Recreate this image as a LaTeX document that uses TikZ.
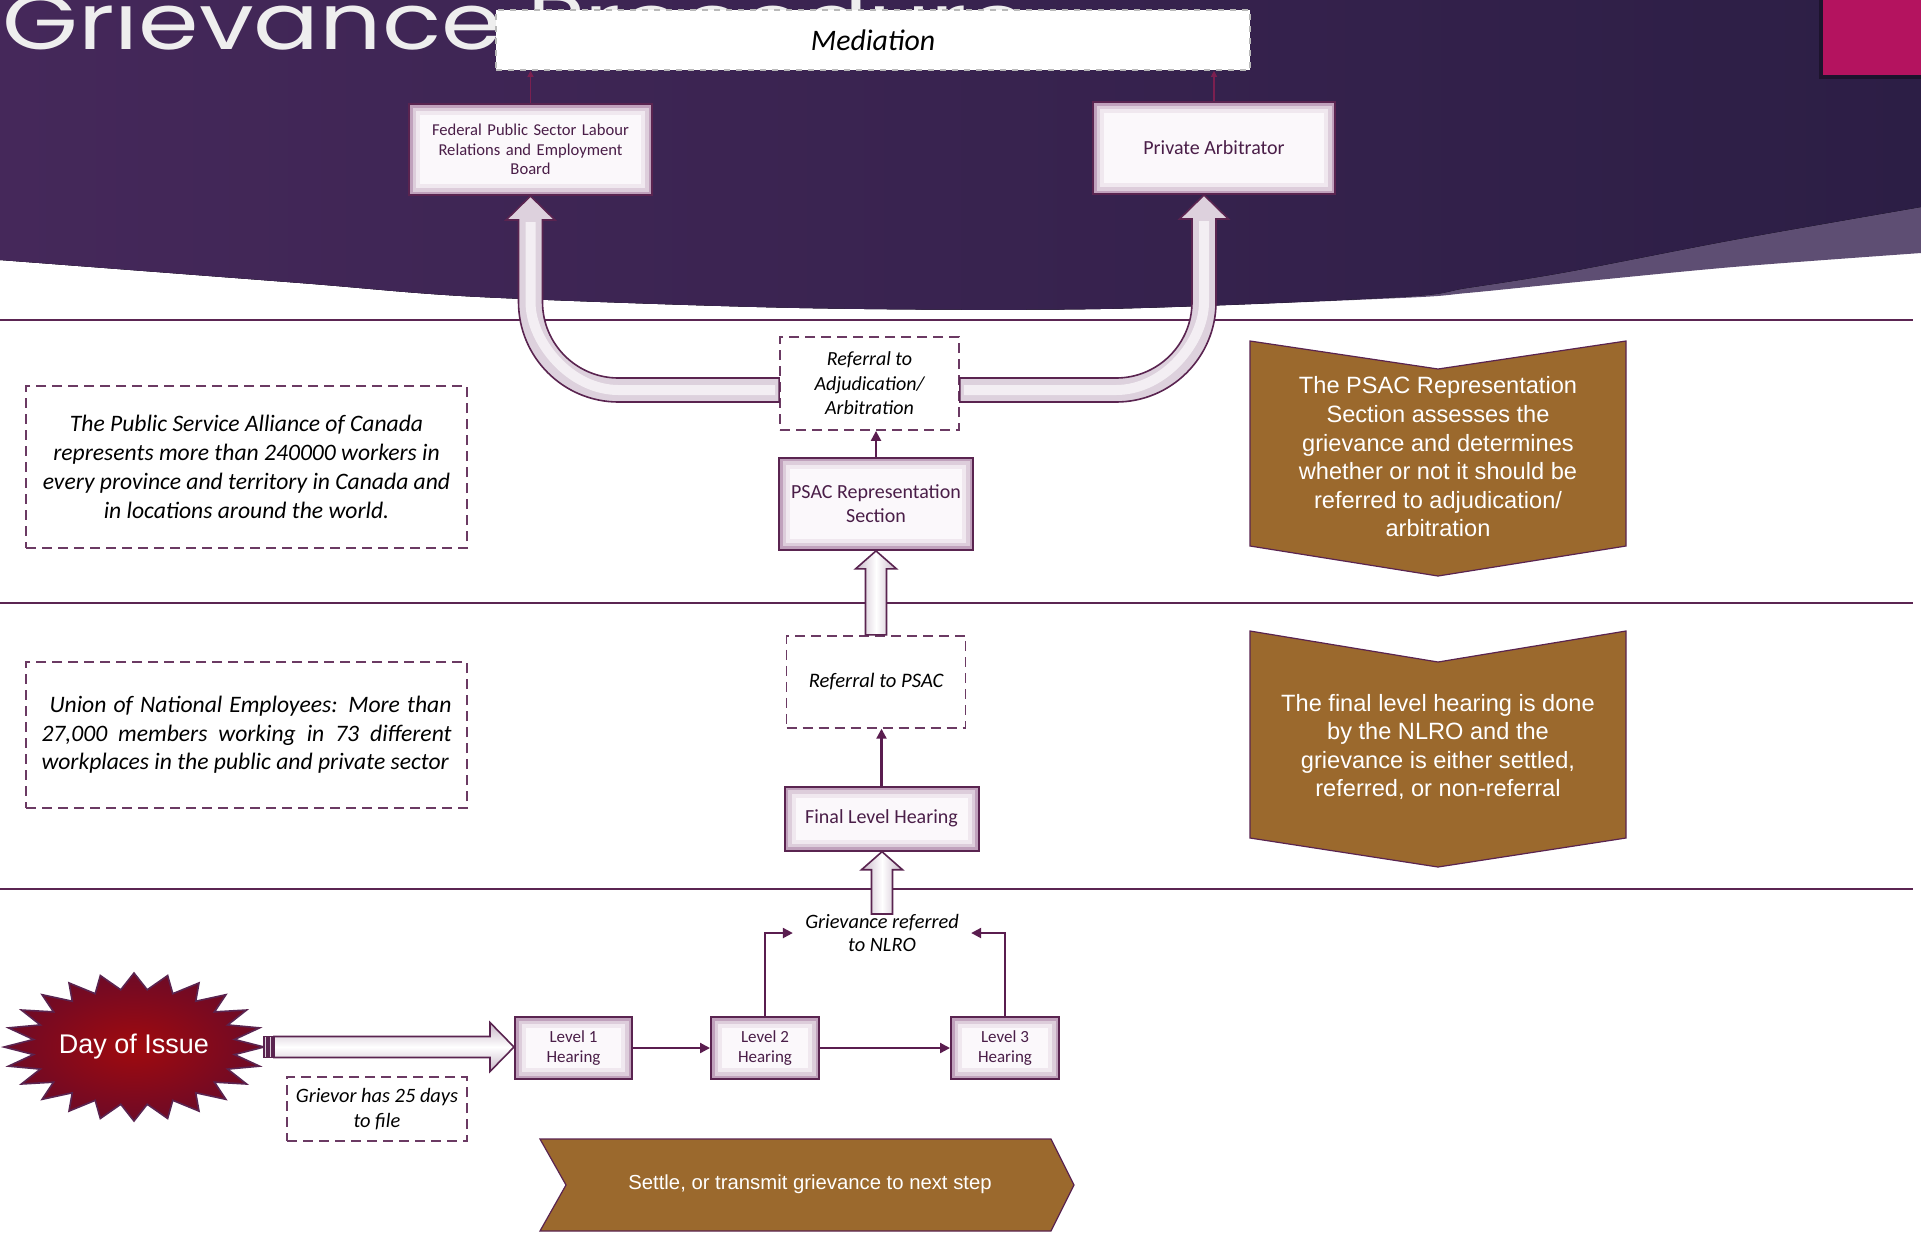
\documentclass[tikz,border=0pt]{standalone}
\usepackage{fontspec}
\setmainfont{Carlito}
\newfontfamily\arialfont{Liberation Sans}
\newfontfamily\titlefont{Poppins}
\usepackage{graphicx}
\usepackage{xcolor}
\usetikzlibrary{arrows.meta, positioning, calc}

\definecolor{edge}{HTML}{5A2450}
\definecolor{rulec}{HTML}{5B2552}
\definecolor{txt}{HTML}{4A1E48}
\definecolor{glow}{HTML}{B48FB0}
\definecolor{boxfill}{HTML}{FBF8FB}
\definecolor{dashc}{HTML}{6B3A63}
\definecolor{flowc}{HTML}{5A1D4F}
\definecolor{medc}{HTML}{7B2050}
\definecolor{arrowedge}{HTML}{C8B7C8}
\definecolor{arrowfill}{HTML}{DDD1DD}
\definecolor{chev}{HTML}{9B692D}
\definecolor{bgl}{HTML}{45285A}
\definecolor{bgm}{HTML}{6A2F66}
\definecolor{bgr}{HTML}{2C1E45}
\definecolor{band}{HTML}{5E4E73}
\definecolor{pinkc}{HTML}{B4135F}
\definecolor{starred}{HTML}{A00A0E}
\definecolor{stardark}{HTML}{6E0A26}
\definecolor{titlec}{HTML}{EEEEEE}

\begin{document}
\begin{tikzpicture}[x=0.5pt, y=-0.5pt,
    stage/.style = {rectangle, draw=edge, line width=1pt, fill=boxfill, text=txt, align=center, inner sep=2pt,
        path picture={\draw[glow, line width=11pt, opacity=0.15] (path picture bounding box.south west) rectangle (path picture bounding box.north east);
                      \draw[glow, line width=7pt, opacity=0.3] (path picture bounding box.south west) rectangle (path picture bounding box.north east);
                      \draw[glow, line width=3.5pt, opacity=0.7] (path picture bounding box.south west) rectangle (path picture bounding box.north east);}},
    note/.style = {rectangle, draw=dashc, line width=0.9pt, dash pattern=on 5pt off 3pt, fill=white, align=center, inner sep=2pt},
    flow/.style = {draw=flowc, line width=1.1pt, -{Triangle[length=5pt,width=5pt]}},
    medflow/.style = {draw=medc, line width=0.6pt, -{Triangle[length=3pt,width=3pt]}},
    block/.style = {draw=edge, line width=0.8pt},
    tube/.style = {white, line width=5pt, opacity=0.65},
    rule/.style = {draw=rulec, line width=1.4pt},
    chevron/.style = {draw=edge, line width=0.6pt, fill=chev},
    chevtext/.style = {text=white, align=center, font=\arialfont\fontsize{11.8}{14.3}\selectfont}
]
\useasboundingbox (0,0) rectangle (1921,1239);
\clip (0,0) rectangle (1921,1239);
\fill[white] (0,0) rectangle (1921,1239);

% Header background
\fill[band] (0,0) -- (1921,0) -- (1921,253) -- plot[smooth] coordinates {(1921,253) (1733,267) (1567,283) (1467,293) (1400,298) (1100,309) (800,308) (480,297) (300,283) (0,260)} -- cycle;
\fill[left color=bgl, middle color=bgm, right color=bgr] (0,0) -- (1921,0) -- (1921,207) -- plot[smooth] coordinates {(1921,207) (1733,240) (1567,272) (1467,288) (1400,297) (1100,309) (800,308) (480,297) (300,283) (0,260)} -- cycle;
\fill[black, opacity=0.35] (1819,0) rectangle (1921,79);
\fill[pinkc] (1823,0) rectangle (1921,75);

% Title
\node (title) [anchor=base west, text=titlec, inner sep=0pt] at (2,49) {\titlefont\scalebox{1.25}[1]{\fontsize{39}{39}\selectfont Grievance Procedure}};

% Section rules
\draw[rule] (0,320) -- (1913,320);
\draw[rule] (0,603) -- (1913,603);
\draw[rule] (0,889) -- (1913,889);

% Top row
\node (med) [rectangle, fill=white, draw=gray!55, dashed, line width=0.8pt, minimum width=377pt, minimum height=30pt, font=\itshape\fontsize{14.9}{16}\selectfont] at (873,40) {Mediation};
\node (fed) [stage, minimum width=121.5pt, minimum height=45.5pt, text width=114pt, font=\fontsize{8.3}{9.8}\selectfont] at (530.5,149.5) {Federal Public Sector Labour\\Relations and Employment\\Board};
\node (pa) [stage, minimum width=121pt, minimum height=46pt, font=\fontsize{10}{12}\selectfont] at (1214,148) {Private Arbitrator};

% Centre column
\node (adj) [note, minimum width=89.5pt, minimum height=46.5pt, font=\itshape\fontsize{10}{12.2}\selectfont] at (869.5,383.5) {Referral to\\Adjudication/\\Arbitration};
\node (psac) [stage, below=13pt of adj, xshift=3.25pt, minimum width=97pt, minimum height=46pt, font=\fontsize{10}{12}\selectfont] {PSAC Representation\\Section};
\node (refpsac) [note, below=42pt of psac, minimum width=89.5pt, minimum height=46pt, font=\itshape\fontsize{10.3}{12}\selectfont] {Referral to PSAC};
\node (fin) [stage, below=28.5pt of refpsac, xshift=2.75pt, minimum width=97pt, minimum height=32pt, font=\fontsize{10}{12}\selectfont] {Final Level Hearing};
\node (nlro) [inner xsep=6pt, inner ysep=0pt, align=center, font=\itshape\fontsize{10.2}{11.5}\selectfont] at (882,933) {Grievance referred\\to NLRO};

% Hearing levels
\node (lvl1) [stage, minimum width=58.5pt, minimum height=31pt, font=\fontsize{8.5}{10.4}\selectfont] at (573.5,1048) {Level 1\\Hearing};
\node (lvl2) [stage, right=38.5pt of lvl1, minimum width=54pt, minimum height=31pt, font=\fontsize{8.5}{10.4}\selectfont] {Level 2\\Hearing};
\node (lvl3) [stage, right=65pt of lvl2, minimum width=54pt, minimum height=31pt, font=\fontsize{8.5}{10.4}\selectfont] {Level 3\\Hearing};

% Day of Issue
\coordinate (dayc) at (134,1047);
\draw[draw=edge, line width=0.8pt, inner color=starred, outer color=stardark, shift={(dayc)}] plot[samples at={0,...,47}, variable=\k] ({(1-0.22*mod(\k,2))*130*cos(\k*7.5)}, {(1-0.22*mod(\k,2))*74*sin(\k*7.5)}) -- cycle;
\node (day) [text=white, font=\arialfont\fontsize{13.5}{15}\selectfont] at (dayc) {Day of Issue};
\coordinate (dayE) at ($(dayc)+(130,0)$);
\node (grievor) [note, minimum width=90pt, minimum height=32pt, font=\itshape\fontsize{10.2}{12.5}\selectfont] at (377,1109) {Grievor has 25 days\\to file};

% Side notes
\node (psacinfo) [note, minimum width=220.5pt, minimum height=81pt, font=\itshape\fontsize{11.8}{14.4}\selectfont] at (246.5,467) {The Public Service Alliance of Canada\\represents more than 240000 workers in\\every province and territory in Canada and\\in locations around the world.};
\node (uneinfo) [note, minimum width=220.5pt, minimum height=73pt, font=\itshape\fontsize{11.8}{14.2}\selectfont] at (246.5,735) {\makebox[205pt][s]{\hspace*{4pt}Union of National Employees: More than}\\\makebox[205pt][s]{27,000 members working in 73 different}\\\makebox[205pt][l]{workplaces in the public and private sector}};

% Chevrons
\path[chevron] (1250,341) -- (1438,369) -- (1626,341) -- (1626,546) -- (1438,576) -- (1250,546) -- cycle;
\node (ctop) [chevtext] at (1438,457) {The PSAC Representation\\Section assesses the\\grievance and determines\\whether or not it should be\\referred to adjudication/\\arbitration};
\path[chevron] (1250,631) -- (1438,662) -- (1626,631) -- (1626,838) -- (1438,867) -- (1250,838) -- cycle;
\node (cbot) [chevtext] at (1438,747) {The final level hearing is done\\by the NLRO and the\\grievance is either settled,\\referred, or non-referral};
\path[chevron] (540,1139) -- (1051,1139) -- (1074,1185) -- (1051,1231) -- (540,1231) -- (566,1185) -- cycle;
\node (settle) [text=white, font=\arialfont\fontsize{10.15}{11}\selectfont] at (810,1184) {Settle, or transmit grievance to next step};

% Block arrows
\path[block, fill=arrowfill] let \p1=(fed.south), \p2=([yshift=-3.25pt]adj.west) in
  (\x2,{\y2+6pt}) -- ({\x1+44pt},{\y2+6pt}) .. controls ({\x1+23pt},{\y2+6pt}) and ({\x1+6pt},{\y2+23pt}) .. ({\x1+6pt},{\y2+44pt})
  -- ({\x1+6pt},{\y1-12pt}) -- ({\x1+12.25pt},{\y1-12pt}) -- (\x1,\y1) -- ({\x1-12.25pt},{\y1-12pt}) -- ({\x1-6pt},{\y1-12pt})
  -- ({\x1-6pt},{\y2+44pt}) .. controls ({\x1-6pt},{\y2+16.4pt}) and ({\x1+16.4pt},{\y2-6pt}) .. ({\x1+44pt},{\y2-6pt})
  -- (\x2,{\y2-6pt}) -- cycle;
\draw[tube] let \p1=(fed.south), \p2=([yshift=-3.25pt]adj.west) in
  ({\x2-2pt},\y2) -- ({\x1+44pt},\y2) .. controls ({\x1+19.7pt},\y2) and (\x1,{\y2+24.3pt}) .. (\x1,{\y2+44pt}) -- (\x1,{\y1-13pt});
\path[block, fill=arrowfill] let \p1=([xshift=-5pt]pa.south), \p2=([yshift=-3.25pt]adj.east) in
  (\x2,{\y2+6pt}) -- ({\x1-44pt},{\y2+6pt}) .. controls ({\x1-23pt},{\y2+6pt}) and ({\x1-6pt},{\y2+23pt}) .. ({\x1-6pt},{\y2+44pt})
  -- ({\x1-6pt},{\y1-12pt}) -- ({\x1-12.25pt},{\y1-12pt}) -- (\x1,\y1) -- ({\x1+12.25pt},{\y1-12pt}) -- ({\x1+6pt},{\y1-12pt})
  -- ({\x1+6pt},{\y2+44pt}) .. controls ({\x1+6pt},{\y2+16.4pt}) and ({\x1-16.4pt},{\y2-6pt}) .. ({\x1-44pt},{\y2-6pt})
  -- (\x2,{\y2-6pt}) -- cycle;
\draw[tube] let \p1=([xshift=-5pt]pa.south), \p2=([yshift=-3.25pt]adj.east) in
  ({\x2+2pt},\y2) -- ({\x1-44pt},\y2) .. controls ({\x1-19.7pt},\y2) and (\x1,{\y2+24.3pt}) .. (\x1,{\y2+44pt}) -- (\x1,{\y1-13pt});
\path[block, left color=arrowedge, right color=arrowedge, middle color=white] let \p1=(refpsac.north), \p2=(psac.south) in
  ({\x1-5.25pt},\y1) -- ({\x1-5.25pt},{\y2-9pt}) -- ({\x1-10.25pt},{\y2-9pt}) -- (\x1,\y2) -- ({\x1+10.25pt},{\y2-9pt}) -- ({\x1+5.25pt},{\y2-9pt}) -- ({\x1+5.25pt},\y1) -- cycle;
\path[block, left color=arrowedge, right color=arrowedge, middle color=white] let \p1=(nlro.north), \p2=(fin.south) in
  ({\x1-5.25pt},\y1) -- ({\x1-5.25pt},{\y2-9pt}) -- ({\x1-10.25pt},{\y2-9pt}) -- (\x1,\y2) -- ({\x1+10.25pt},{\y2-9pt}) -- ({\x1+5.25pt},{\y2-9pt}) -- ({\x1+5.25pt},\y1) -- cycle;
\path[block, fill=arrowfill] let \p1=(dayE) in
  (\x1,{\y1-5.25pt}) rectangle ({\x1+1.5pt},{\y1+5.25pt})
  ({\x1+2.5pt},{\y1-5.25pt}) rectangle ({\x1+4pt},{\y1+5.25pt});
\path[block, top color=arrowedge, bottom color=arrowedge, middle color=white] let \p1=(dayE), \p2=(lvl1.west) in
  ({\x1+5pt},{\y1+5.25pt}) -- ({\x2-12pt},{\y1+5.25pt}) -- ({\x2-12pt},{\y1+12.25pt}) -- (\x2,\y1) -- ({\x2-12pt},{\y1-12.25pt}) -- ({\x2-12pt},{\y1-5.25pt}) -- ({\x1+5pt},{\y1-5.25pt}) -- cycle;

% Thin connectors
\draw[medflow] (fed.north) -- (fed.north |- med.south);
\draw[medflow] (pa.north) -- (pa.north |- med.south);
\draw[flow] (psac.north) -- (psac.north |- adj.south);
\draw[flow] (fin.north) -- (fin.north |- refpsac.south);
\draw[flow] (lvl1) -- (lvl2);
\draw[flow] (lvl2) -- (lvl3);
\draw[flow] (lvl2.north) |- (nlro.west);
\draw[flow] (lvl3.north) |- (nlro.east);

\end{tikzpicture}
\end{document}
